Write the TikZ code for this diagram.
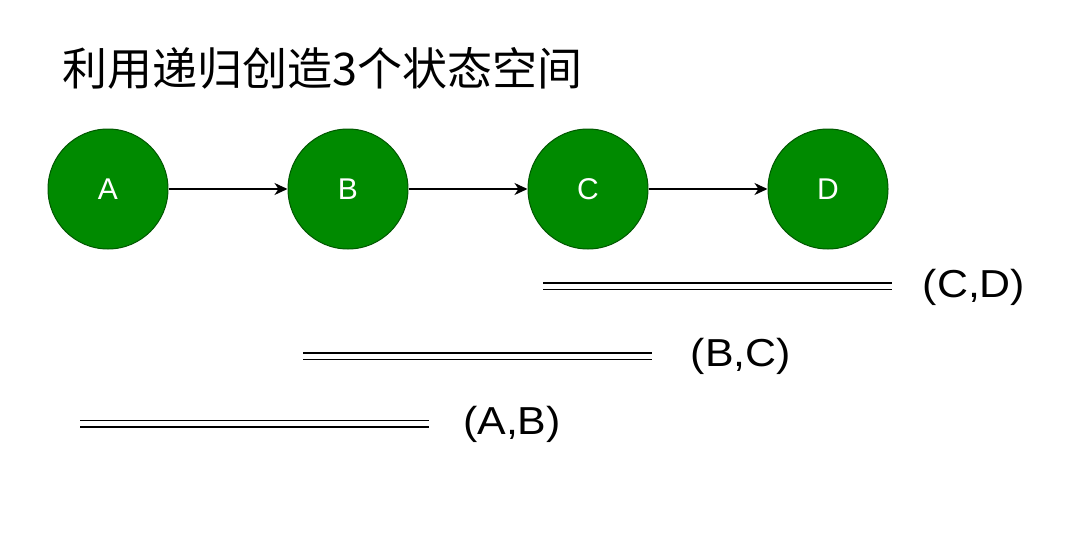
\documentclass[tikz,border=0pt]{standalone}
\usepackage{fontspec}
\setmainfont{Liberation Sans}
\newfontfamily\cjk{Noto Sans CJK SC}
\newfontfamily\lblfont[FakeStretch=1.1]{Liberation Sans}
\usetikzlibrary{arrows.meta}
\definecolor{gfill}{HTML}{008A00}
\definecolor{gline}{HTML}{005700}
\tikzset{
  state/.style={circle, draw=gline, fill=gfill, line width=1pt, minimum size=120pt, inner sep=0pt, text=white, font=\fontsize{30}{34}\selectfont},
  arr/.style={line width=1.4pt, -{Stealth[length=13pt,width=12pt,inset=4pt]}},
  dline/.style={double, line width=1.5pt, double distance=5pt},
  pairlbl/.style={font=\lblfont\fontsize{39}{44}\selectfont, inner sep=0pt},
  title/.style={font=\cjk\fontsize{45}{50}\selectfont, anchor=west, inner sep=0pt}
}
\begin{document}
\begin{tikzpicture}[x=1pt,y=-1pt]
\useasboundingbox (0,0) rectangle (1090,538);
\node[title] (t) at (62,68) {利用递归创造3个状态空间};
\node[state] (A) at (108,189) {A};
\node[state] (B) at (348,189) {B};
\node[state] (C) at (588,189) {C};
\node[state] (D) at (828,189) {D};
\draw[arr] (A) -- (B);
\draw[arr] (B) -- (C);
\draw[arr] (C) -- (D);
\coordinate (cd1) at (543,286);
\coordinate (cd2) at (892,286);
\coordinate (bc1) at (303,356);
\coordinate (bc2) at (652,356);
\coordinate (ab1) at (80,423.5);
\coordinate (ab2) at (429,423.5);
\draw[dline] (cd1) -- (cd2);
\draw[dline] (bc1) -- (bc2);
\draw[dline] (ab1) -- (ab2);
\node[pairlbl] (lcd) at (974,287) {(C,D)};
\node[pairlbl] (lbc) at (741,356) {(B,C)};
\node[pairlbl] (lab) at (512,424) {(A,B)};
\end{tikzpicture}
\end{document}
